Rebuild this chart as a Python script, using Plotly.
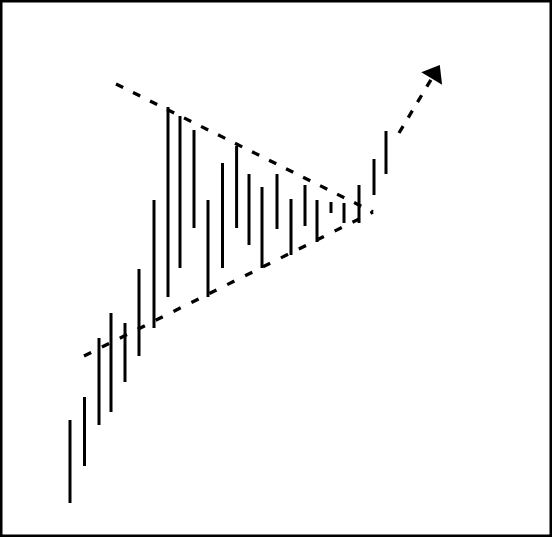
import plotly.graph_objects as go

# Bar positions (time axis) and high/low prices
days = [70, 84.5, 99, 111, 125, 139, 154, 168, 180, 194, 208, 222.5,
        236.6, 249, 262, 277, 291, 305, 317, 331, 344, 359, 374, 386]
highs = [117, 140, 199, 224, 214, 268, 337, 430, 421, 407, 337, 374,
         391, 363, 350, 363, 338, 352, 337, 335, 334, 352, 378, 406]
lows = [34, 71, 112, 125, 155, 181, 209, 240, 269, 309, 240, 269,
        309, 292, 269, 308, 282, 311, 295, 324, 314, 314, 342, 363]

# Triangle trend lines (start, apex)
upper_x = [116, 373]
upper_y = [453, 325]
lower_x = [84, 373]
lower_y = [181, 325]

# Breakout projection (start, arrow head)
break_x = [399, 434.4]
break_y = [404, 463]

bx, by = [], []
for d, h, l in zip(days, highs, lows):
    bx += [d, d, None]
    by += [l, h, None]

fig = go.Figure()
fig.add_trace(go.Scatter(x=bx, y=by, mode="lines",
                         line=dict(color="black", width=3), hoverinfo="skip"))
fig.add_trace(go.Scatter(x=upper_x, y=upper_y, mode="lines",
                         line=dict(color="black", width=3.3, dash="8px,11px")))
fig.add_trace(go.Scatter(x=lower_x, y=lower_y, mode="lines",
                         line=dict(color="black", width=3.3, dash="8px,12px")))
fig.add_trace(go.Scatter(x=break_x, y=break_y, mode="lines",
                         line=dict(color="black", width=3.3, dash="8px,10px")))
fig.add_trace(go.Scatter(x=break_x, y=break_y, mode="markers",
                         marker=dict(symbol="triangle-up", size=[0, 21], color="black",
                                     opacity=1, angleref="previous",
                                     line=dict(width=0))))

fig.update_layout(
    width=552, height=537,
    margin=dict(l=0, r=0, t=0, b=0),
    showlegend=False,
    hovermode=False,
    plot_bgcolor="white", paper_bgcolor="white",
    xaxis=dict(range=[0, 552], visible=False, fixedrange=True),
    yaxis=dict(range=[0, 537], visible=False, fixedrange=True),
    shapes=[dict(type="rect", xref="paper", yref="paper", x0=0, y0=0, x1=1, y1=1,
                 line=dict(color="black", width=5))],
)

fig.write_html("out.html",
               config={"displayModeBar": False},
               post_script="document.body.style.margin='0';document.body.style.overflow='hidden';")
